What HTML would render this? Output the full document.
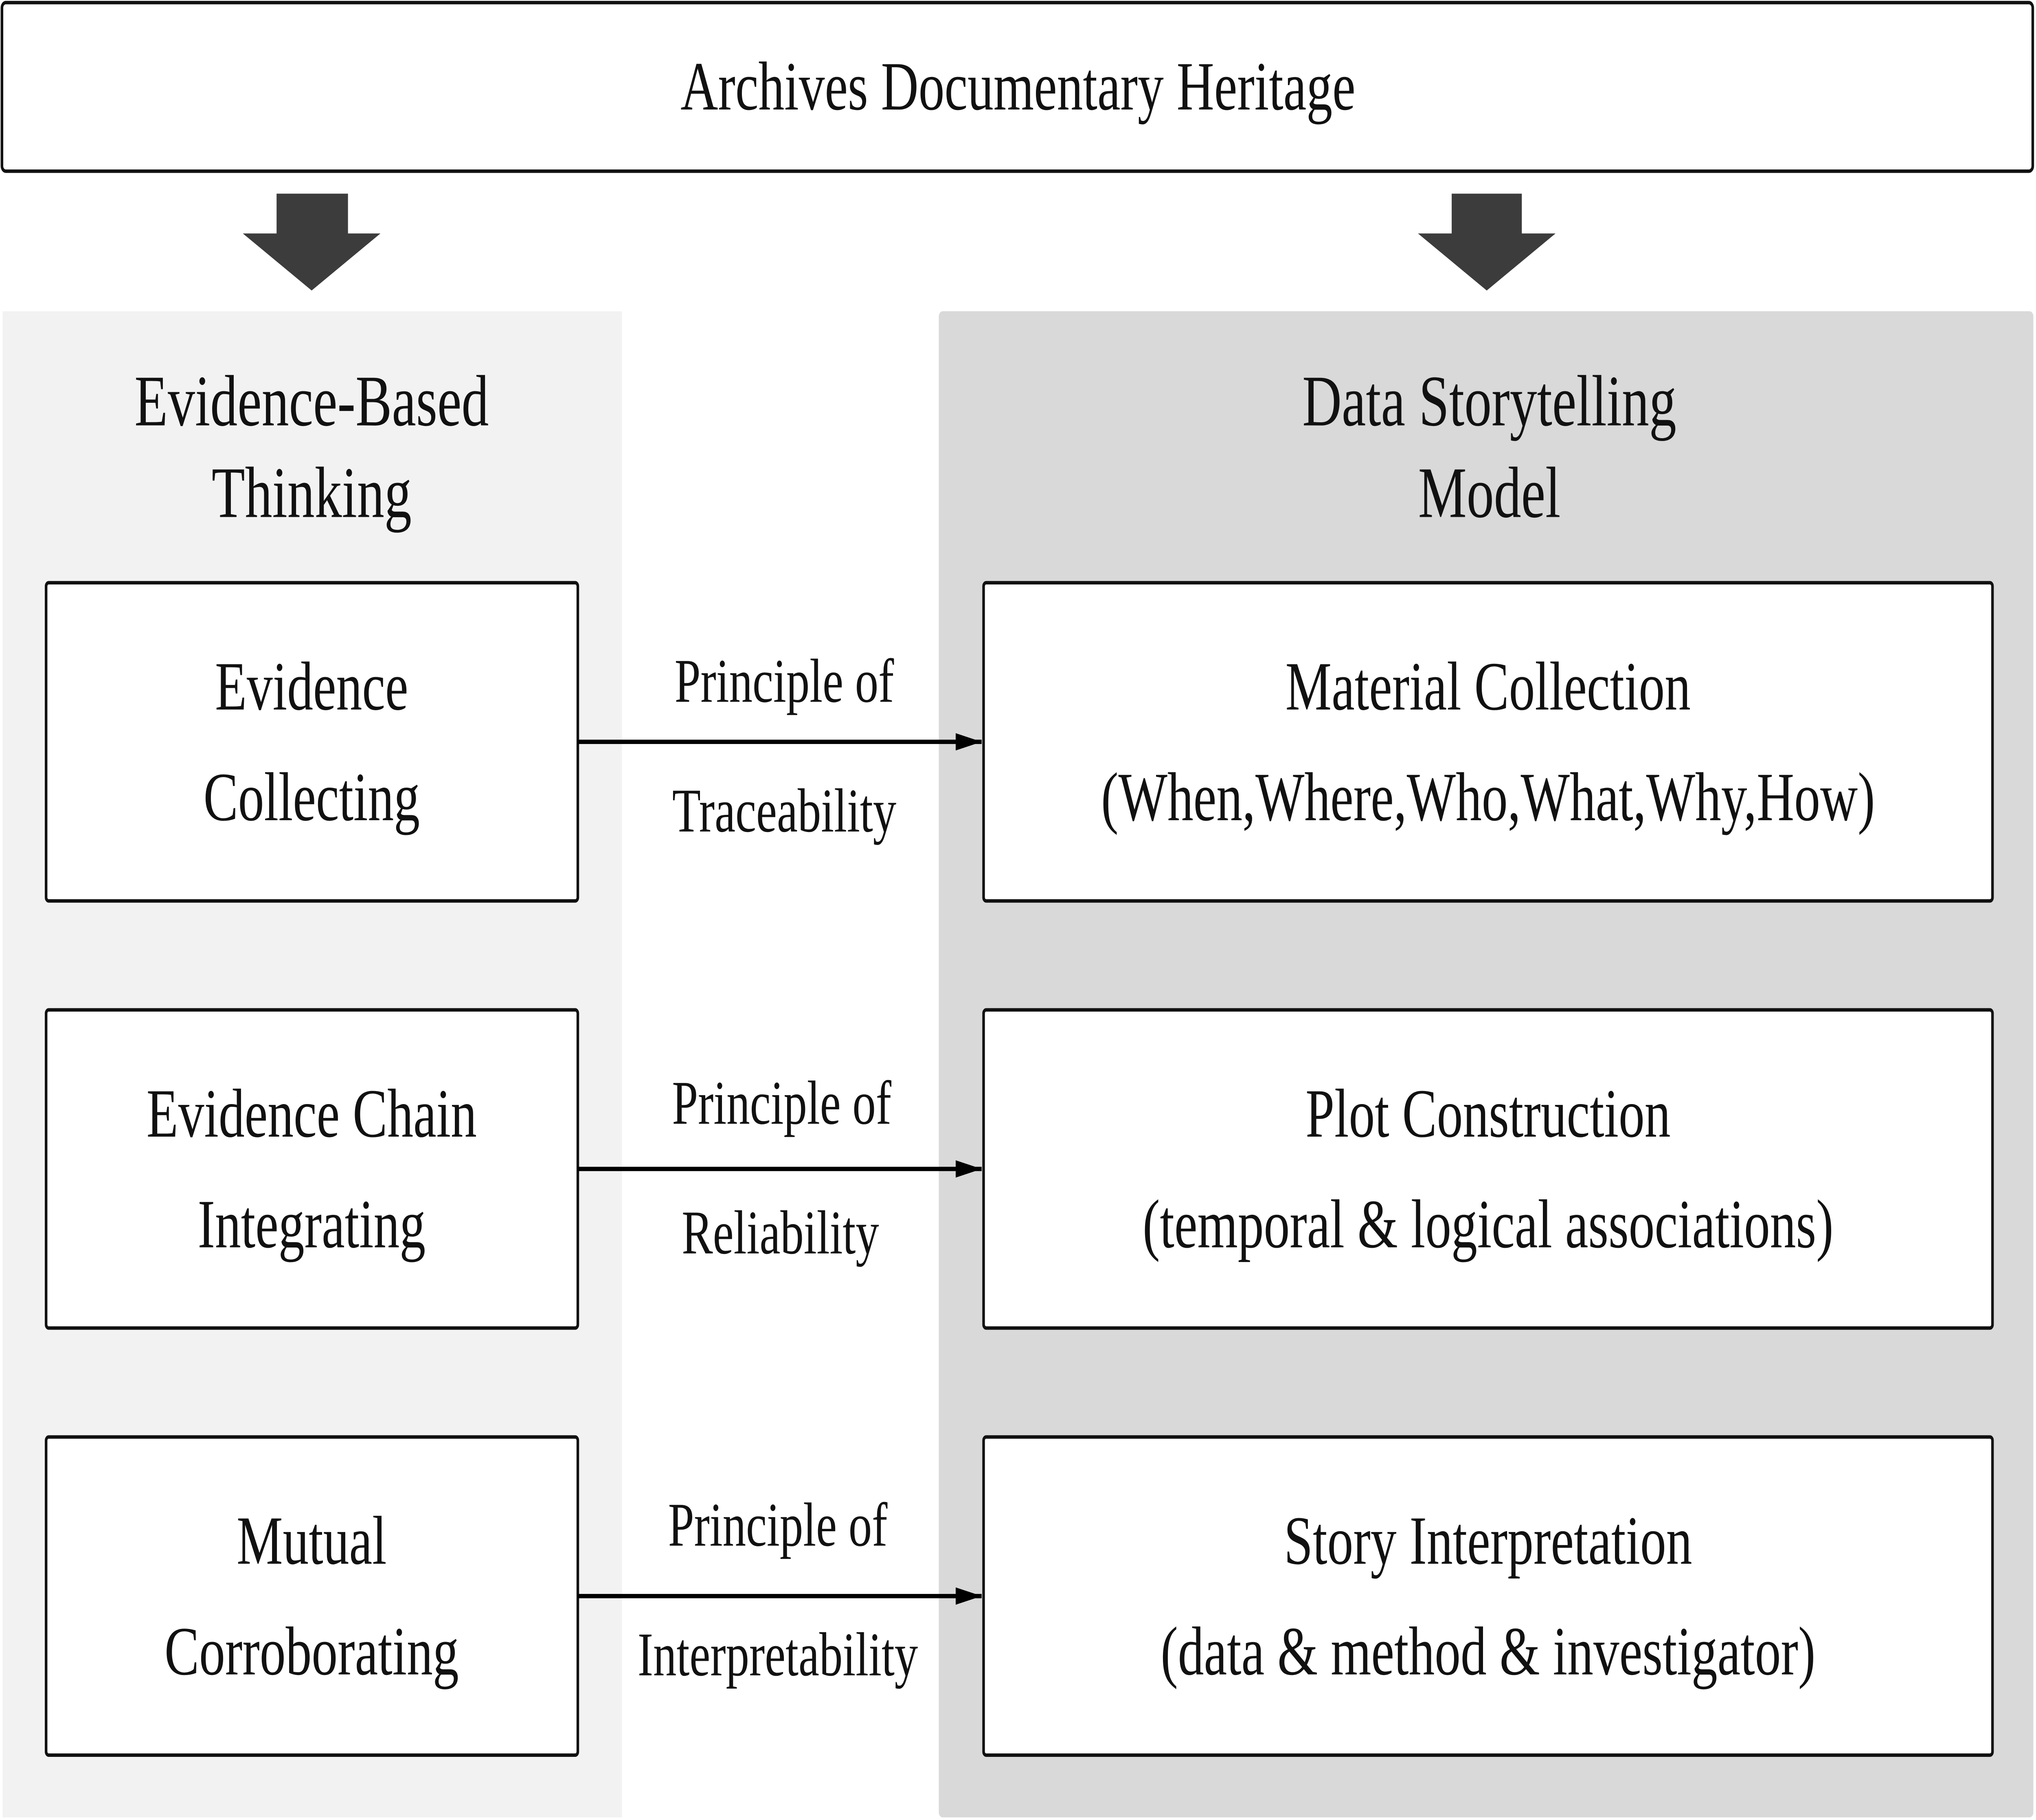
<!DOCTYPE html>
<html><head><meta charset="utf-8"><style>
html,body{margin:0;padding:0;background:#fff;width:100vw;height:100vh;overflow:hidden;}
svg{display:block;width:100vw;height:100vh;}
text{font-family:"Liberation Serif",serif;fill:#111;text-anchor:middle;dominant-baseline:central;}
</style></head><body>
<svg viewBox="0 0 1568 1052.5" preserveAspectRatio="none" xmlns="http://www.w3.org/2000/svg">
<defs><marker id="ah" markerWidth="20" markerHeight="10" refX="20" refY="5" orient="auto" markerUnits="userSpaceOnUse"><path d="M0,0 L20,5 L0,10 z" fill="#000"/></marker></defs>
<rect x="1.5" y="1.5" width="1564" height="97.5" rx="3" fill="#fff" stroke="#111" stroke-width="2"/>
<text x="784" y="50" font-size="40">Archives Documentary Heritage</text>
<path d="M213,112 H268 V135 H293 L240,168 L187,135 H213 Z" fill="#3c3c3c"/>
<path d="M1118,112 H1172 V135 H1198 L1145,168 L1092,135 H1118 Z" fill="#3c3c3c"/>
<rect x="2" y="180" width="477" height="871" fill="#f2f2f2"/>
<rect x="723" y="180" width="843" height="871" rx="3" fill="#d9d9d9"/>
<text x="240" y="232" font-size="42">Evidence-Based</text>
<text x="240" y="285" font-size="42">Thinking</text>
<text x="1147" y="232" font-size="42">Data Storytelling</text>
<text x="1147" y="285" font-size="42">Model</text>
<g fill="#fff" stroke="#111" stroke-width="2">
<rect x="35.5" y="337" width="409.5" height="184" rx="2"/>
<rect x="35.5" y="584" width="409.5" height="184" rx="2"/>
<rect x="35.5" y="831" width="409.5" height="184" rx="2"/>
<rect x="757.5" y="337" width="777" height="184" rx="2"/>
<rect x="757.5" y="584" width="777" height="184" rx="2"/>
<rect x="757.5" y="831" width="777" height="184" rx="2"/>
</g>
<g font-size="40">
<text x="240" y="397">Evidence</text>
<text x="240" y="461">Collecting</text>
<text x="240" y="644">Evidence Chain</text>
<text x="240" y="708">Integrating</text>
<text x="240" y="891">Mutual</text>
<text x="240" y="955">Corroborating</text>
<text x="1146" y="397">Material Collection</text>
<text x="1146" y="461">(When,Where,Who,What,Why,How)</text>
<text x="1146" y="644">Plot Construction</text>
<text x="1146" y="708">(temporal &amp; logical associations)</text>
<text x="1146" y="891">Story Interpretation</text>
<text x="1146" y="955">(data &amp; method &amp; investigator)</text>
</g>
<g stroke="#000" stroke-width="2.5">
<line x1="445" y1="429" x2="756" y2="429" marker-end="url(#ah)"/>
<line x1="445" y1="676" x2="756" y2="676" marker-end="url(#ah)"/>
<line x1="445" y1="923" x2="756" y2="923" marker-end="url(#ah)"/>
</g>
<g font-size="36">
<text x="604" y="394">Principle of</text>
<text x="604" y="469">Traceability</text>
<text x="602" y="638">Principle of</text>
<text x="601" y="713">Reliability</text>
<text x="599" y="882">Principle of</text>
<text x="599" y="957">Interpretability</text>
</g>
</svg>
</body></html>
